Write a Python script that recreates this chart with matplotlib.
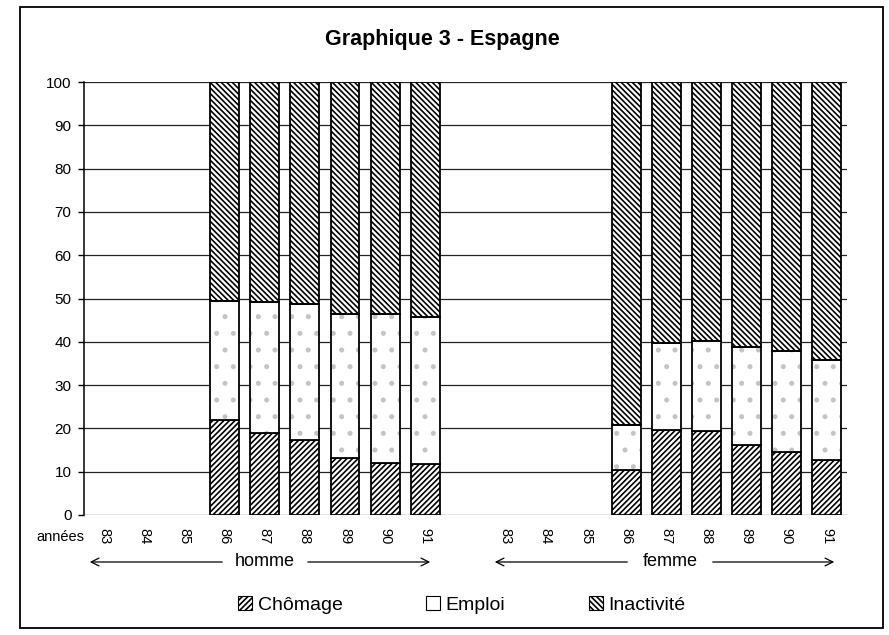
import matplotlib
matplotlib.use("Agg")
import matplotlib.pyplot as plt
from matplotlib.patches import Rectangle, Patch, FancyArrowPatch
import numpy as np

plt.rcParams['font.family'] = ['Liberation Sans', 'DejaVu Sans']
plt.rcParams['hatch.linewidth'] = 1.2

# Data (percent); 83-85 have no data
years = ['83', '84', '85', '86', '87', '88', '89', '90', '91']
chomage_h = [0, 0, 0, 22.0, 19.0, 17.3, 13.1, 12.1, 11.7]
emploi_h = [0, 0, 0, 27.4, 30.1, 31.4, 33.4, 34.4, 34.0]
chomage_f = [0, 0, 0, 10.3, 19.6, 19.3, 16.2, 14.6, 12.8]
emploi_f = [0, 0, 0, 10.5, 20.1, 20.8, 22.6, 23.2, 23.0]
has_data = [False, False, False, True, True, True, True, True, True]

W, H = 889, 635
fig = plt.figure(figsize=(W / 100, H / 100), dpi=100)
ax = fig.add_axes([84 / W, 1 - 515 / H, (847 - 84) / W, (515 - 82) / H])

# homme slots 0..8, one empty slot, femme slots 10..18
labels = years + [''] + years
chom = np.array(chomage_h + [0] + chomage_f, dtype=float)
empl = np.array(emploi_h + [0] + emploi_f, dtype=float)
mask = np.array(has_data + [False] + has_data)
inac = np.where(mask, 100 - chom - empl, 0)
x = np.arange(len(labels))
bw = 0.72

xs = x[mask]
ax.bar(xs, chom[mask], bw, color='white', edgecolor='black', hatch='//////', linewidth=1.3, zorder=3)
# stippled emploi: grey dots then black outline
ax.bar(xs, empl[mask], bw, bottom=chom[mask], color='white', edgecolor='#c4c4c4', hatch='.', linewidth=0, zorder=3)
ax.bar(xs, empl[mask], bw, bottom=chom[mask], color='none', edgecolor='black', linewidth=1.3, zorder=4)
ax.bar(xs, inac[mask], bw, bottom=(chom + empl)[mask], color='white', edgecolor='black',
       hatch='\\\\\\\\\\\\', linewidth=1.3, zorder=3)

ax.set_xlim(-0.5, len(labels) - 0.5)
ax.set_ylim(0, 100)
ax.set_yticks(np.arange(0, 101, 10))
ax.set_xticks(x)
ax.set_xticklabels(labels, rotation=270, fontsize=10.5)
ax.tick_params(axis='x', length=0, pad=9)
ax.tick_params(axis='y', direction='out', length=4, width=1, labelsize=11, pad=5)
ax.grid(axis='y', color='#222222', linewidth=0.9)
ax.set_axisbelow(True)
for s in ['top', 'right', 'bottom']:
    ax.spines[s].set_visible(False)
ax.spines['left'].set_linewidth(1.1)

fig.text(442 / W, 1 - 40 / H, 'Graphique 3 - Espagne', fontsize=15.5, fontweight='bold',
         ha='center', va='center')
fig.text(60 / W, 1 - 537 / H, 'années', fontsize=10.5, ha='center', va='center')

# group labels with arrows
def group(label, cx, x0, x1, y=562):
    fy = 1 - y / H
    fig.text(cx / W, fy, label, fontsize=13, ha='center', va='center')
    for start, end in [(cx - 40, x0), (cx + 40, x1)]:
        fig.add_artist(FancyArrowPatch((start / W, fy), (end / W, fy), transform=fig.transFigure,
                                       arrowstyle='->', mutation_scale=14, lw=0.9, color='black'))

group('homme', 265, 87, 433)
group('femme', 670, 492, 837)

handles = [Patch(facecolor='white', edgecolor='black', hatch='//////', linewidth=0.8),
           Patch(facecolor='white', edgecolor='black', linewidth=0.8),
           Patch(facecolor='white', edgecolor='black', hatch='\\\\\\\\\\\\', linewidth=0.8)]
fig.legend(handles, ['Chômage', 'Emploi', 'Inactivité'], loc='center', ncol=3,
           bbox_to_anchor=(462 / W, 1 - 605 / H), frameon=False, fontsize=14,
           handlelength=0.7, handleheight=0.7, handletextpad=0.3, columnspacing=4.3)

# outer frame
fig.patches.append(Rectangle((20 / W, 1 - 628 / H), (883 - 20) / W, (628 - 7) / H,
                             transform=fig.transFigure, fill=False, edgecolor='black', linewidth=1.3))

fig.savefig('out.png', dpi=100)
